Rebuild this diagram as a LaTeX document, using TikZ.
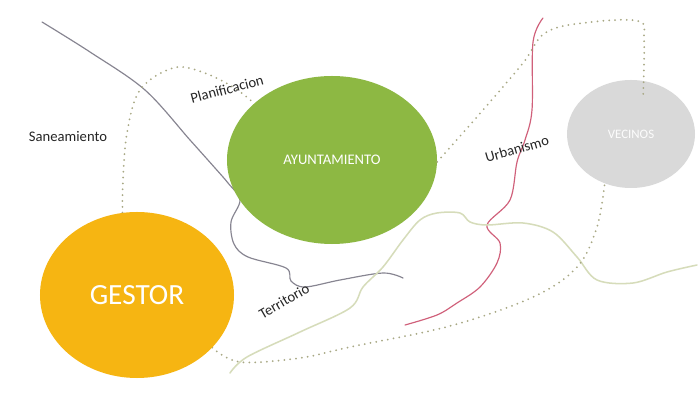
\documentclass[tikz,border=0pt]{standalone}
\usepackage{fontspec}
\setmainfont{Carlito}
\usetikzlibrary{shapes.geometric,backgrounds}
\definecolor{AytoGreen}{RGB}{141,184,67}
\definecolor{GestorOrange}{RGB}{246,181,18}
\definecolor{SoftGrey}{RGB}{217,217,217}
\definecolor{PathGrey}{RGB}{135,133,145}
\definecolor{UrbRed}{RGB}{208,96,122}
\definecolor{DotOlive}{RGB}{168,168,132}
\definecolor{PaleGreen}{RGB}{214,220,186}

\begin{document}
\begin{tikzpicture}[x=0.03cm, y=-0.03cm,
  every node/.style={font=\fontsize{12.5}{14}\selectfont, text=black!85},
  blob/.style={ellipse, inner sep=0pt},
  dots/.style={DotOlive, line width=1.7pt, line cap=round, dash pattern=on 0pt off 5pt},
  road/.style={line width=1pt, line cap=round}]
\useasboundingbox (0,0) rectangle (698,403);

% Actores
\node[blob, fill=GestorOrange, minimum width=5.82cm, minimum height=4.98cm,
  text=white, font=\fontsize{25}{28}\selectfont] (gestor) at (137,295) {GESTOR};
\node[blob, fill=AytoGreen, minimum width=6.3cm, minimum height=5.04cm,
  text=white, font=\fontsize{12.5}{14}\selectfont] (ayto) at (332,160) {AYUNTAMIENTO};
\node[blob, fill=SoftGrey, minimum width=3.84cm, minimum height=3.24cm,
  text=white!93!SoftGrey, font=\fontsize{11}{13}\selectfont] (vecinos) at (631,134) {VECINOS};

% Etiquetas
\node (saneam) at (68,137) {Saneamiento};
\node[rotate=15] (planif) at (227,89) {Planificacion};
\node[rotate=16] (urban) at (517,149) {Urbanismo};
\node[rotate=30] (territ) at (284,301) {Territorio};

\coordinate (grisini) at (42,22);
\coordinate (grisfin) at (403,278);
\coordinate (rojoini) at (543,18);
\coordinate (rojofin) at (405,325);
\coordinate (verdeini) at (230,373);
\coordinate (verdefin) at (697,265);
\coordinate (dotfin) at (643,98);

\begin{scope}[on background layer]
\fill[white] (0,0) rectangle (698,403);
% Territorio
\draw[road, PathGrey] plot[smooth, tension=0.55] coordinates {(grisini) (90,52) (145,90) (190,140)
  (215,168) (228,183) (240,200) (231,222) (234,244) (248,257) (286,268) (291,281) (305,287)
  (340,280) (383,273) (grisfin)};
% Urbanismo
\draw[road, UrbRed] plot[smooth, tension=0.55] coordinates {(rojoini) (533,42) (532,110) (525,140)
  (517,162) (510,200) (487,225) (500,243) (497,263) (480,287) (457,303) (437,315) (rojofin)};
% linea verde
\draw[road, PaleGreen, line width=1.3pt] plot[smooth, tension=0.55] coordinates {(verdeini) (247,357)
  (300,332) (350,308) (363,287) (383,267) (403,240) (420,220) (437,213) (460,213) (470,222)
  (487,225) (523,223) (553,232) (577,257) (597,280) (633,283) (667,272) (verdefin)};
% Gestor -- Ayuntamiento
\draw[dots] plot[smooth, tension=0.6] coordinates {(gestor.100) (123,180) (127,133) (140,90)
  (173,68) (202,72) (233,87) (ayto.144)};
% Gestor -- Vecinos
\draw[dots] plot[smooth, tension=0.6] coordinates {(gestor.-35) (240,362) (300,358) (350,347)
  (450,326) (533,297) (577,267) (597,227) (vecinos.-118)};
\end{scope}

% Ayuntamiento -- Vecinos
\draw[dots] plot[smooth, tension=0.6] coordinates {(ayto.-1) (483,110) (523,63) (545,33)
  (583,23) (638,21) (644,40) (dotfin)};
\end{tikzpicture}
\end{document}
